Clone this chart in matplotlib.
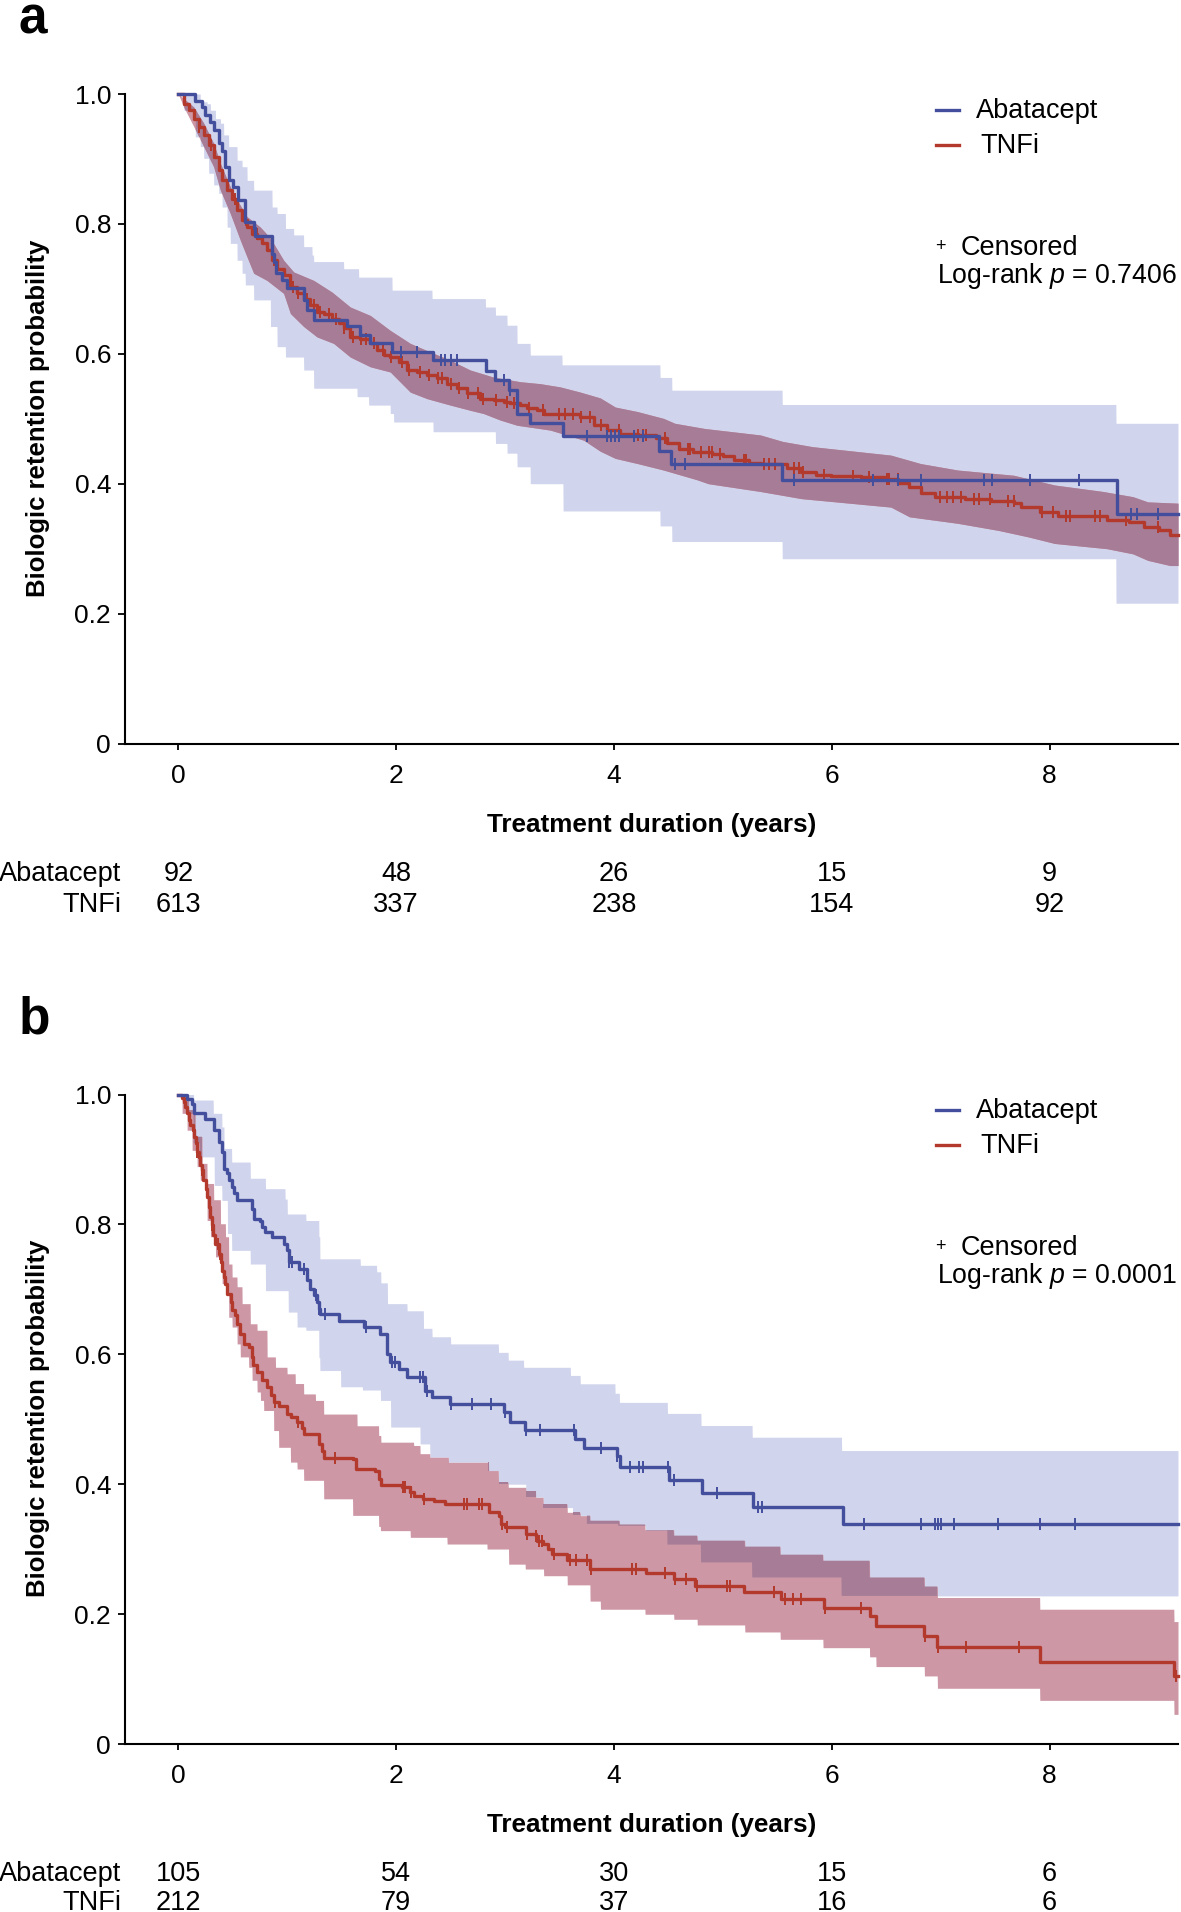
import numpy as np
import matplotlib
matplotlib.use("Agg")
import matplotlib.pyplot as plt
from matplotlib.lines import Line2D
from matplotlib.transforms import blended_transform_factory

plt.rcParams['font.family'] = ['Liberation Sans', 'DejaVu Sans']
plt.rcParams['mathtext.fontset'] = 'custom'
plt.rcParams['mathtext.it'] = 'Liberation Sans:italic'
plt.rcParams['mathtext.rm'] = 'Liberation Sans'

# ---------------- data ----------------
T_END = 9.18
risk_times = [0, 2, 4, 6, 8]
groups = ["Abatacept", "TNFi"]

# Panel a
a_aba_t = [0.0, 0.156, 0.217, 0.248, 0.294, 0.324, 0.370, 0.401, 0.432, 0.462, 0.502, 0.545,
           0.615, 0.692, 0.70, 0.860, 0.882, 0.900, 0.952, 0.998, 1.151, 1.181, 1.243, 1.549,
           1.671, 1.763, 1.962, 2.339, 2.828, 2.911, 3.033, 3.110, 3.232, 3.532, 4.416, 4.525,
           5.544, 8.62]
a_aba_s = [1.0, 0.989, 0.980, 0.967, 0.957, 0.944, 0.924, 0.913, 0.888, 0.867, 0.857, 0.837,
           0.803, 0.793, 0.781, 0.754, 0.742, 0.724, 0.713, 0.701, 0.683, 0.667, 0.652, 0.643,
           0.629, 0.616, 0.603, 0.591, 0.574, 0.559, 0.544, 0.508, 0.493, 0.473, 0.451, 0.430,
           0.406, 0.354]
a_aba_cens = [2.04, 2.19, 2.41, 2.45, 2.50, 2.56, 2.99, 3.05, 3.75, 3.94, 3.97, 4.01, 4.05, 4.18,
              4.27, 4.56, 4.65, 5.65, 6.38, 6.61, 6.82, 7.40, 7.47, 7.82, 8.27, 8.75, 8.80, 9.00]
a_aba_up_t = [0, 0.202, 0.263, 0.294, 0.340, 0.386, 0.416, 0.462, 0.539, 0.585, 0.631, 0.692,
              0.860, 0.906, 0.983, 1.059, 1.151, 1.227, 1.243, 1.518, 1.656, 1.962, 2.329, 2.819,
              2.911, 3.018, 3.110, 3.232, 3.523, 4.422, 4.532, 5.544, 8.61]
a_aba_up_v = [1.0, 0.988, 0.985, 0.975, 0.962, 0.955, 0.937, 0.919, 0.898, 0.888, 0.867, 0.852,
              0.826, 0.816, 0.793, 0.783, 0.765, 0.752, 0.742, 0.731, 0.718, 0.698, 0.685, 0.672,
              0.6595, 0.644, 0.616, 0.598, 0.583, 0.5636, 0.544, 0.522, 0.493]
a_aba_lo_t = [0, 0.05, 0.156, 0.202, 0.233, 0.278, 0.324, 0.370, 0.401, 0.447, 0.477, 0.539, 0.585,
              0.615, 0.692, 0.845, 0.906, 0.983, 1.151, 1.243, 1.641, 1.748, 1.946, 1.977, 2.339,
              2.911, 3.018, 3.110, 3.232, 3.532, 4.422, 4.532, 5.544, 8.61]
a_aba_lo_v = [1.0, 0.975, 0.934, 0.919, 0.901, 0.878, 0.860, 0.847, 0.826, 0.795, 0.770, 0.744, 0.724,
              0.706, 0.683, 0.642, 0.611, 0.595, 0.575, 0.547, 0.534, 0.521, 0.508, 0.495, 0.480,
              0.462, 0.447, 0.426, 0.400, 0.358, 0.335, 0.311, 0.2845, 0.216]

a_tnf_t = [0.0, 0.049, 0.095, 0.141, 0.187, 0.233, 0.278, 0.324, 0.370, 0.401, 0.447, 0.493,
           0.539, 0.585, 0.631, 0.676, 0.722, 0.768, 0.814, 0.860, 0.906, 0.967, 1.029, 1.090,
           1.151, 1.212, 1.273, 1.335, 1.411, 1.472, 1.518, 1.579, 1.671, 1.763, 1.824, 1.885,
           1.946, 2.023, 2.099, 2.191, 2.283, 2.375, 2.467, 2.559, 2.651, 2.773, 2.896, 2.987,
           3.048, 3.140, 3.201, 3.293, 3.354, 3.691, 3.814, 3.936, 4.059, 4.217, 4.388, 4.491,
           4.593, 4.730, 4.901, 5.004, 5.106, 5.243, 5.346, 5.482, 5.585, 5.722, 5.859, 5.995,
           6.269, 6.508, 6.611, 6.714, 6.816, 6.953, 7.227, 7.466, 7.671, 7.740, 7.911, 8.082,
           8.526, 8.731, 8.868, 9.005, 9.107]
a_tnf_s = [1.0, 0.985, 0.975, 0.962, 0.949, 0.937, 0.921, 0.903, 0.883, 0.867, 0.852, 0.839,
           0.821, 0.806, 0.795, 0.785, 0.778, 0.770, 0.760, 0.744, 0.731, 0.721, 0.703, 0.693,
           0.685, 0.675, 0.665, 0.662, 0.654, 0.647, 0.639, 0.626, 0.623, 0.616, 0.606, 0.598,
           0.595, 0.588, 0.575, 0.572, 0.567, 0.562, 0.554, 0.547, 0.539, 0.531, 0.529, 0.526,
           0.524, 0.521, 0.516, 0.513, 0.508, 0.503, 0.490, 0.482, 0.477, 0.475, 0.470, 0.462,
           0.454, 0.449, 0.4456, 0.4425, 0.436, 0.432, 0.431, 0.430, 0.4235, 0.418, 0.413, 0.412,
           0.4096, 0.408, 0.4015, 0.395, 0.386, 0.380, 0.3766, 0.373, 0.370, 0.3635, 0.357, 0.351,
           0.344, 0.341, 0.334, 0.328, 0.321]
a_tnf_cens = [0.19, 0.30, 0.52, 0.62, 0.72, 0.88, 1.05, 1.10, 1.15, 1.18, 1.25, 1.30, 1.38, 1.45,
              1.52, 1.60, 1.68, 1.72, 1.80, 1.88, 1.95, 2.05, 2.12, 2.22, 2.30, 2.38, 2.42, 2.50,
              2.58, 2.66, 2.75, 2.80, 2.92, 3.02, 3.08, 3.12, 3.22, 3.35, 3.50, 3.55, 3.62, 3.70,
              3.78, 3.88, 3.94, 4.05, 4.22, 4.27, 4.29, 4.47, 4.68, 4.70, 4.80, 4.87, 4.90, 4.97,
              5.19, 5.21, 5.38, 5.42, 5.48, 5.65, 5.70, 5.74, 5.93, 6.20, 6.34, 6.51, 6.53, 6.61,
              6.99, 7.06, 7.11, 7.19, 7.31, 7.35, 7.45, 7.62, 7.67, 7.93, 8.03, 8.15, 8.19, 8.42,
              8.46, 8.70, 9.00]
a_tnf_up_t = [0, 0.049, 0.141, 0.233, 0.324, 0.386, 0.477, 0.539, 0.631, 0.753, 0.845, 0.967,
              1.059, 1.243, 1.411, 1.579, 1.763, 1.946, 2.130, 2.283, 2.498, 2.681, 2.896, 3.140,
              3.324, 3.507, 3.691, 3.875, 4.012, 4.217, 4.456, 4.559, 4.833, 5.346, 5.551, 5.824,
              6.543, 6.816, 7.158, 7.671, 8.047, 8.492, 8.766, 8.902, 9.18]
a_tnf_up_v = [1.0, 0.993, 0.980, 0.955, 0.924, 0.893, 0.857, 0.837, 0.811, 0.795, 0.778, 0.744,
              0.726, 0.713, 0.695, 0.672, 0.659, 0.636, 0.616, 0.605, 0.590, 0.575, 0.564, 0.557,
              0.554, 0.549, 0.541, 0.532, 0.518, 0.511, 0.5005, 0.493, 0.485, 0.475, 0.465, 0.457,
              0.444, 0.431, 0.421, 0.413, 0.398, 0.388, 0.380, 0.372, 0.370]
a_tnf_lo_t = [0, 0.049, 0.141, 0.233, 0.324, 0.386, 0.477, 0.569, 0.631, 0.692, 0.814, 0.967,
              1.029, 1.151, 1.273, 1.426, 1.579, 1.763, 1.946, 2.130, 2.283, 2.498, 2.681, 2.803,
              2.956, 3.110, 3.416, 3.722, 3.875, 4.012, 4.217, 4.456, 4.764, 4.867, 5.346, 5.722,
              6.543, 6.714, 7.158, 7.534, 7.808, 8.047, 8.526, 8.766, 8.902, 9.107, 9.18]
a_tnf_lo_v = [1.0, 0.980, 0.950, 0.919, 0.888, 0.852, 0.816, 0.775, 0.749, 0.724, 0.713, 0.693,
              0.662, 0.642, 0.626, 0.616, 0.595, 0.580, 0.572, 0.541, 0.531, 0.521, 0.513, 0.508,
              0.498, 0.490, 0.4825, 0.467, 0.450, 0.439, 0.431, 0.421, 0.406, 0.400, 0.388, 0.377,
              0.364, 0.349, 0.339, 0.328, 0.318, 0.308, 0.300, 0.292, 0.282, 0.274, 0.274]
a_risk = [[92, 48, 26, 15, 9], [613, 337, 238, 154, 92]]
a_p = "0.7406"

# Panel b
b_aba_t = [0.0, 0.08, 0.126, 0.141, 0.248, 0.324, 0.370, 0.401, 0.416, 0.447, 0.462, 0.493,
           0.508, 0.539, 0.676, 0.692, 0.753, 0.768, 0.799, 0.860, 0.967, 0.998, 1.013, 1.105,
           1.181, 1.212, 1.243, 1.273, 1.289, 1.304, 1.472, 1.702, 1.855, 1.916, 1.946, 2.023,
           2.099, 2.268, 2.329, 2.498, 2.987, 3.048, 3.186, 3.645, 3.722, 4.028, 4.059, 4.503,
           4.805, 5.277, 6.105]
b_aba_s = [1.0, 0.993, 0.985, 0.971, 0.962, 0.945, 0.927, 0.912, 0.886, 0.879, 0.868, 0.858,
           0.848, 0.837, 0.824, 0.809, 0.806, 0.796, 0.788, 0.781, 0.770, 0.760, 0.742, 0.732,
           0.714, 0.701, 0.691, 0.680, 0.670, 0.662, 0.652, 0.642, 0.632, 0.601, 0.588, 0.578,
           0.565, 0.544, 0.534, 0.523, 0.511, 0.496, 0.484, 0.470, 0.455, 0.444, 0.426, 0.406,
           0.3865, 0.3644, 0.3387]
b_aba_cens = [1.02, 1.04, 1.15, 1.26, 1.295, 1.35, 1.72, 1.96, 1.99, 2.22, 2.25, 2.28, 2.50,
              2.70, 2.87, 3.00, 3.19, 3.32, 3.63, 3.88, 4.03, 4.15, 4.23, 4.27, 4.50, 4.55, 4.95,
              5.32, 5.36, 6.30, 6.82, 6.95, 6.98, 7.00, 7.12, 7.53, 7.91, 8.23]
b_aba_up_t = [0, 0.14, 0.32, 0.40, 0.42, 0.49, 0.66, 0.80, 0.98, 1.00, 1.17, 1.29, 1.30, 1.67,
              1.82, 1.86, 1.92, 2.10, 2.25, 2.33, 2.50, 2.94, 3.03, 3.17, 3.60, 3.69, 4.01, 4.05,
              4.49, 4.80, 5.27, 6.09]
b_aba_up_v = [1.0, 0.9915, 0.971, 0.950, 0.917, 0.896, 0.871, 0.855, 0.839, 0.816, 0.806, 0.781,
              0.747, 0.737, 0.727, 0.710, 0.678, 0.667, 0.640, 0.627, 0.616, 0.603, 0.591, 0.580,
              0.5675, 0.5546, 0.540, 0.526, 0.509, 0.4904, 0.4723, 0.4518]
b_aba_lo_t = [0, 0.08, 0.14, 0.20, 0.33, 0.40, 0.45, 0.49, 0.66, 0.80, 1.01, 1.09, 1.17, 1.29,
              1.30, 1.49, 1.69, 1.855, 1.95, 2.22, 2.31, 2.48, 2.84, 2.94, 3.19, 3.35, 3.62, 3.75,
              4.04, 4.29, 4.49, 4.80, 5.27, 6.09]
b_aba_lo_v = [1.0, 0.97, 0.925, 0.904, 0.86, 0.837, 0.786, 0.760, 0.739, 0.698, 0.665, 0.642,
              0.637, 0.595, 0.575, 0.550, 0.545, 0.529, 0.488, 0.462, 0.4415, 0.434, 0.421, 0.400,
              0.380, 0.364, 0.352, 0.339, 0.336, 0.3285, 0.307, 0.2796, 0.2564, 0.228]

b_tnf_t = [0.0, 0.03, 0.05, 0.06, 0.08, 0.10, 0.11, 0.13, 0.14, 0.16, 0.17, 0.19, 0.20, 0.22,
           0.23, 0.25, 0.26, 0.28, 0.29, 0.31, 0.32, 0.34, 0.37, 0.39, 0.40, 0.42, 0.43, 0.45,
           0.48, 0.49, 0.52, 0.54, 0.57, 0.60, 0.65, 0.68, 0.69, 0.72, 0.77, 0.81, 0.85, 0.88,
           0.92, 1.00, 1.03, 1.09, 1.14, 1.15, 1.29, 1.32, 1.34, 1.60, 1.63, 1.81, 1.84, 1.86,
           2.05, 2.13, 2.16, 2.25, 2.35, 2.45, 2.85, 2.94, 2.96, 3.00, 3.19, 3.28, 3.29, 3.35,
           3.39, 3.43, 3.57, 3.78, 4.29, 4.55, 4.747, 5.192, 5.534, 5.927, 6.354, 6.406, 6.85,
           6.97, 7.911, 9.142]
b_tnf_s = [1.0, 0.994, 0.989, 0.981, 0.971, 0.961, 0.953, 0.945, 0.935, 0.925, 0.912, 0.904,
           0.891, 0.883, 0.868, 0.855, 0.842, 0.827, 0.811, 0.799, 0.783, 0.770, 0.755, 0.742,
           0.729, 0.719, 0.709, 0.693, 0.680, 0.668, 0.660, 0.647, 0.632, 0.616, 0.611, 0.596,
           0.583, 0.572, 0.560, 0.549, 0.537, 0.526, 0.521, 0.508, 0.503, 0.495, 0.487, 0.477,
           0.462, 0.451, 0.441, 0.439, 0.423, 0.421, 0.408, 0.398, 0.395, 0.3875, 0.3824, 0.377,
           0.3747, 0.3696, 0.357, 0.3516, 0.339, 0.3336, 0.3232, 0.3207, 0.313, 0.3079, 0.3002,
           0.2925, 0.2832, 0.2694, 0.2627, 0.254, 0.244, 0.234, 0.223, 0.210, 0.197, 0.182,
           0.1665, 0.1486, 0.1264, 0.1049]
b_tnf_cens = [0.17, 0.22, 0.31, 0.36, 0.38, 0.89, 1.10, 1.44, 2.06, 2.08, 2.14, 2.26, 2.62, 2.65,
              2.76, 2.79, 2.97, 3.02, 3.20, 3.285, 3.31, 3.34, 3.45, 3.60, 3.65, 3.75, 3.79, 4.17,
              4.20, 4.47, 4.56, 4.66, 4.76, 5.04, 5.07, 5.47, 5.57, 5.64, 5.72, 5.94, 6.27, 6.86,
              6.98, 7.23, 7.72, 9.16]
b_tnf_up_t = [0, 0.064, 0.095, 0.156, 0.217, 0.263, 0.324, 0.386, 0.432, 0.462, 0.493, 0.539,
              0.585, 0.661, 0.722, 0.814, 0.891, 0.998, 1.074, 1.151, 1.258, 1.335, 1.641, 1.84,
              1.86, 2.16, 2.22, 2.31, 2.48, 2.85, 2.94, 3.03, 3.19, 3.28, 3.35, 3.57, 3.69, 3.78,
              4.05, 4.285, 4.549, 4.764, 5.202, 5.527, 5.92, 6.348, 6.85, 6.97, 7.911, 9.142]
b_tnf_up_v = [1.0, 0.994, 0.976, 0.935, 0.894, 0.863, 0.838, 0.801, 0.781, 0.739, 0.719, 0.704,
              0.678, 0.647, 0.637, 0.596, 0.580, 0.570, 0.555, 0.539, 0.529, 0.508, 0.490, 0.475,
              0.4647, 0.4596, 0.447, 0.4415, 0.4338, 0.421, 0.403, 0.3952, 0.3901, 0.3798, 0.3695,
              0.3567, 0.3516, 0.3438, 0.338, 0.3294, 0.3208, 0.3131, 0.3039, 0.2915, 0.2822,
              0.2564, 0.2425, 0.2256, 0.2075, 0.1885]
b_tnf_lo_t = [0, 0.034, 0.080, 0.126, 0.171, 0.202, 0.263, 0.294, 0.340, 0.401, 0.462, 0.493,
              0.539, 0.569, 0.646, 0.676, 0.722, 0.753, 0.784, 0.875, 0.921, 1.029, 1.090, 1.151,
              1.335, 1.60, 1.84, 1.855, 2.13, 2.467, 2.835, 3.033, 3.186, 3.354, 3.57, 3.78, 3.875,
              4.285, 4.549, 4.764, 5.202, 5.527, 5.92, 6.348, 6.406, 6.85, 6.97, 7.911, 9.142]
b_tnf_lo_v = [1.0, 0.971, 0.945, 0.914, 0.889, 0.868, 0.806, 0.781, 0.750, 0.709, 0.657, 0.642,
              0.616, 0.596, 0.580, 0.560, 0.542, 0.529, 0.5135, 0.4826, 0.4568, 0.434, 0.4234,
              0.406, 0.3775, 0.352, 0.335, 0.3285, 0.3182, 0.3079, 0.3002, 0.2769, 0.2694, 0.2591,
              0.245, 0.22, 0.2075, 0.1998, 0.192, 0.1833, 0.1725, 0.1612, 0.1483, 0.1342, 0.1192,
              0.1048, 0.0858, 0.0672, 0.0456]
b_risk = [[105, 54, 30, 15, 6], [212, 79, 37, 16, 6]]
b_p = "0.0001"

# ---------------- style ----------------
BLUE = '#434F9D'
RED = '#B2392B'
BLUE_BAND = '#D0D4EC'
RED_BAND = '#CD97A6'
OVERLAP = '#A67C96'
FS = 19.5
TICK_FS = 19

W, H = 1181, 1912
fig = plt.figure(figsize=(W / 100, H / 100), dpi=100)


def rect(x0, x1, ytop, ybot):
    return [x0 / W, 1 - ybot / H, (x1 - x0) / W, (ybot - ytop) / H]


def step_eval(t, v, grid):
    idx = np.searchsorted(np.asarray(t), grid, side='right') - 1
    return np.asarray(v)[np.clip(idx, 0, None)]


def draw_panel(ax, aba, tnf, aba_band, tnf_band, tnf_band_linear):
    grid = np.linspace(0, T_END, 5000)
    bl = step_eval(aba_band[2], aba_band[3], grid)
    bu = step_eval(aba_band[0], aba_band[1], grid)
    if tnf_band_linear:
        rl = np.interp(grid, tnf_band[2], tnf_band[3])
        ru = np.interp(grid, tnf_band[0], tnf_band[1])
    else:
        rl = step_eval(tnf_band[2], tnf_band[3], grid)
        ru = step_eval(tnf_band[0], tnf_band[1], grid)
    ax.fill_between(grid, bl, bu, color=BLUE_BAND, lw=0, zorder=1)
    ax.fill_between(grid, rl, ru, color=RED_BAND, lw=0, zorder=2)
    lo = np.maximum(bl, rl)
    hi = np.minimum(bu, ru)
    ax.fill_between(grid, lo, hi, where=hi > lo, color=OVERLAP, lw=0, zorder=3)

    for (t, s, c), col, z in ((aba, BLUE, 6), (tnf, RED, 5)):
        tt = list(t) + [T_END]
        ss = list(s) + [s[-1]]
        ax.step(tt, ss, where='post', color=col, lw=2.4, zorder=z, clip_on=False)
        cy = step_eval(t, s, np.asarray(c))
        ax.plot(c, cy, ls='none', marker='|', ms=8, mew=1.4, color=col, zorder=z)

    ax.set_xlim(-0.49, T_END)
    ax.set_ylim(0, 1.0)
    for side in ('top', 'right'):
        ax.spines[side].set_visible(False)
    for side in ('left', 'bottom'):
        ax.spines[side].set_linewidth(1.5)
    ax.set_xticks(risk_times)
    ax.set_xticklabels([str(v) for v in risk_times])
    ax.set_yticks([0, 0.2, 0.4, 0.6, 0.8, 1.0])
    ax.set_yticklabels(['0', '0.2', '0.4', '0.6', '0.8', '1.0'])
    ax.tick_params(axis='x', length=4.5, width=1.3, pad=10, labelsize=TICK_FS)
    ax.tick_params(axis='y', length=5, width=1.3, pad=5, labelsize=TICK_FS)


def panel_text(ax, letter, dy, p):
    fig.text(19 / W, 1 - (33 + dy) / H, letter, fontsize=37, fontweight='bold',
             ha='left', va='baseline')
    fig.text(38 / W, 1 - (418.7 + dy) / H, 'Biologic retention probability', rotation=90,
             fontsize=18.5, fontweight='bold', ha='center', va='center')
    fig.text(652 / W, 1 - (832 + dy) / H, 'Treatment duration (years)', fontsize=18.8,
             fontweight='bold', ha='center', va='baseline')
    # legend
    for yy, col, name, xt in ((110, BLUE, groups[0], 976), (145, RED, groups[1], 980)):
        fig.add_artist(Line2D([936 / W, 959 / W], [1 - (yy + dy) / H] * 2, color=col, lw=2.4))
        fig.text(xt / W, 1 - (yy + 8 + dy) / H, name, fontsize=FS, ha='left', va='baseline')
    fig.text(940 / W, 1 - (251 + dy) / H, '+', fontsize=13, ha='center', va='baseline')
    fig.text(961 / W, 1 - (255 + dy) / H, 'Censored', fontsize=FS, ha='left', va='baseline')
    fig.text(937 / W, 1 - (283 + dy) / H, 'Log-rank $p$ = ' + p, fontsize=19.2, ha='left',
             va='baseline')


def risk_table(ax, risk, baselines):
    tr = blended_transform_factory(ax.transData, fig.transFigure)
    for gi, (g, yb) in enumerate(zip(groups, baselines)):
        fig.text(121 / W, 1 - yb / H, g, fontsize=FS, ha='right', va='baseline')
        for x, n in zip(risk_times, risk[gi]):
            ax.text(x, 1 - yb / H, str(n), transform=tr, fontsize=FS, ha='center',
                    va='baseline', clip_on=False)


ax_a = fig.add_axes(rect(125, 1178, 94, 743.5))
draw_panel(ax_a, (a_aba_t, a_aba_s, a_aba_cens), (a_tnf_t, a_tnf_s, a_tnf_cens),
           (a_aba_up_t, a_aba_up_v, a_aba_lo_t, a_aba_lo_v),
           (a_tnf_up_t, a_tnf_up_v, a_tnf_lo_t, a_tnf_lo_v), True)
panel_text(ax_a, 'a', 0, a_p)
risk_table(ax_a, a_risk, (881, 912))

ax_b = fig.add_axes(rect(125, 1178, 1094.5, 1744))
draw_panel(ax_b, (b_aba_t, b_aba_s, b_aba_cens), (b_tnf_t, b_tnf_s, b_tnf_cens),
           (b_aba_up_t, b_aba_up_v, b_aba_lo_t, b_aba_lo_v),
           (b_tnf_up_t, b_tnf_up_v, b_tnf_lo_t, b_tnf_lo_v), False)
panel_text(ax_b, 'b', 1000, b_p)
risk_table(ax_b, b_risk, (1881, 1910))

fig.savefig('out.png', dpi=100)
